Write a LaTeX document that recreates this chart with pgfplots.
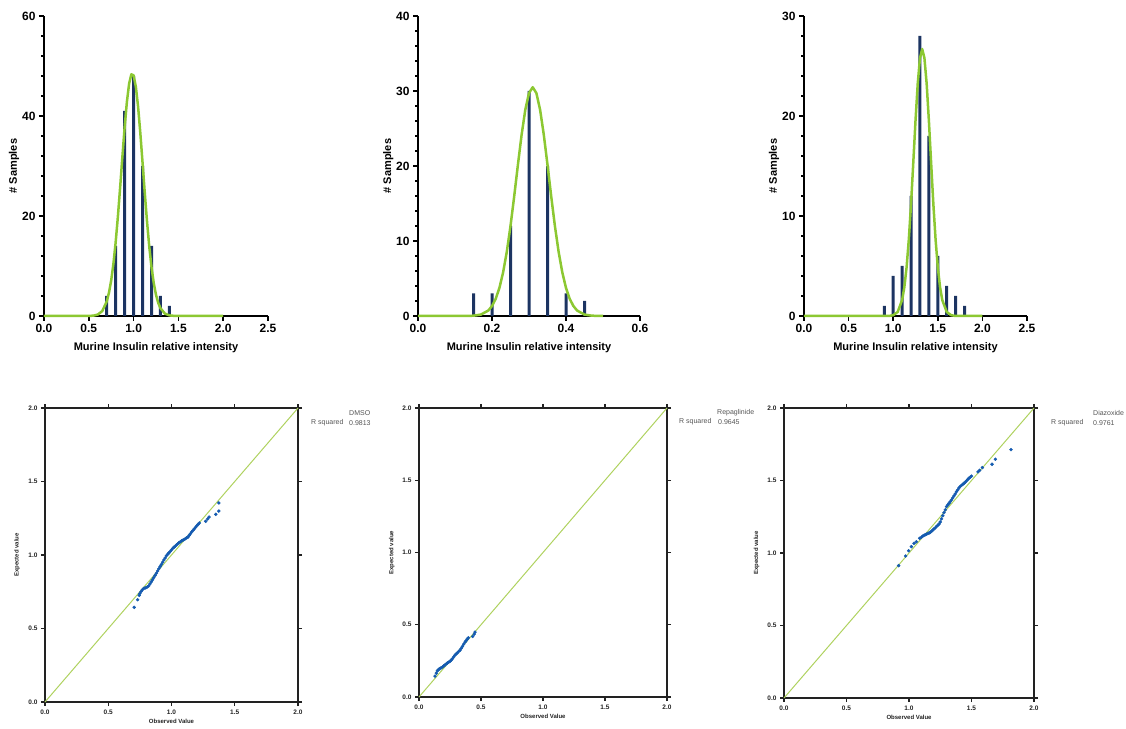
\documentclass[border=0pt]{standalone}
\usepackage{fontspec}
\setmainfont{Liberation Sans}
\usepackage{pgfplots}
\pgfplotsset{compat=1.18}

\definecolor{barnavy}{RGB}{28,52,98}
\definecolor{fitgreen}{RGB}{140,200,50}
\definecolor{qqline}{RGB}{175,210,95}
\definecolor{qqblue}{RGB}{25,85,185}
\definecolor{qqframe}{RGB}{34,34,34}
\definecolor{annot}{RGB}{85,85,85}

\pgfplotsset{
  hist/.style={
    scale only axis, anchor=south west, clip=false,
    axis lines=left,
    axis line style={-, line width=2.5pt, black},
    tick align=outside,
    major tick length=5pt, minor tick length=3pt,
    tick style={line width=1.5pt, black},
    minor y tick num=4,
    xtick pos=bottom, ytick pos=left,
    /pgf/number format/assume math mode=true,
    ticklabel style={font=\bfseries\fontsize{12}{12}\selectfont},
    xticklabel style={/pgf/number format/.cd, fixed, fixed zerofill, precision=1},
    label style={font=\bfseries\fontsize{11}{11}\selectfont},
    xlabel={Murine Insulin relative intensity},
    ylabel={\# Samples},
    xlabel style={at={(axis description cs:0.5,0)}, anchor=center, yshift=-32pt},
    ylabel style={at={(axis description cs:-0.134,0.5)}, anchor=center},
  },
  qq/.style={
    scale only axis, anchor=south west, clip=false,
    xmin=0, xmax=2, ymin=0, ymax=2,
    xtick={0,0.5,1,1.5,2}, ytick={0,0.5,1,1.5,2},
    axis line style={line width=1.5pt, qqframe},
    tick align=outside, major tick length=4pt,
    tick style={line width=1.2pt, qqframe},
    /pgf/number format/assume math mode=true,
    ticklabel style={font=\bfseries\fontsize{6.5}{7}\selectfont, text=qqframe},
    xticklabel style={/pgf/number format/.cd, fixed, fixed zerofill, precision=1},
    yticklabel style={/pgf/number format/.cd, fixed, fixed zerofill, precision=1},
    label style={font=\bfseries\fontsize{6}{7}\selectfont, text=qqframe},
    xlabel={Observed Value},
    ylabel={Expected value},
    xlabel style={at={(axis description cs:0.5,0)}, anchor=center, yshift=-19pt},
    ylabel style={at={(axis description cs:-0.11,0.5)}, anchor=center},
  },
  fit/.style={fitgreen, line width=2.5pt, line join=round},
  bars/.style={ybar, bar width=3pt, bar shift=0pt, fill=barnavy, draw=none},
  qqpts/.style={only marks, mark=*, mark size=1.5pt, mark options={fill=qqblue, draw=qqblue!75!teal}},
}

\begin{document}
\begin{tikzpicture}
\useasboundingbox (0,0) rectangle (1126pt,728pt);

% ---------- top row: histograms ----------
\begin{axis}[hist, at={(44pt,412pt)}, width=224pt, height=300pt,
  xmin=0, xmax=2.5, ymin=0, ymax=60,
  xtick={0,0.5,1,1.5,2,2.5}, ytick={0,20,40,60}]
\addplot [bars] coordinates {(0.7,4) (0.8,14) (0.9,41) (1.0,48) (1.1,30) (1.2,14) (1.3,4) (1.4,2)};
\addplot [fit] coordinates {
(0,0) (0.45,0) (0.5,0.01) (0.55,0.07) (0.6,0.28) (0.65,0.98) (0.7,2.90) (0.725,4.64)
(0.75,7.13) (0.775,10.49) (0.8,14.78) (0.825,19.94) (0.85,25.76) (0.875,31.87)
(0.9,37.73) (0.925,42.80) (0.95,46.48) (0.975,48.33) (1.0,48.12) (1.025,45.88)
(1.05,41.88) (1.075,36.61) (1.1,30.64) (1.125,24.56) (1.15,18.85) (1.175,13.85)
(1.2,9.74) (1.225,6.56) (1.25,4.23) (1.275,2.61) (1.3,1.55) (1.35,0.48)
(1.4,0.12) (1.45,0.03) (1.5,0) (2.0,0)};
\end{axis}

\begin{axis}[hist, at={(418pt,412pt)}, width=222pt, height=300pt,
  xmin=0, xmax=0.6, ymin=0, ymax=40,
  xtick={0,0.2,0.4,0.6}, ytick={0,10,20,30,40}]
\addplot [bars] coordinates {(0.15,3) (0.2,3) (0.25,12) (0.3,30) (0.35,20) (0.4,3) (0.45,2)};
\addplot [fit] coordinates {
(0,0) (0.13,0) (0.15,0.04) (0.17,0.19) (0.19,0.73) (0.2,1.33) (0.21,2.29) (0.22,3.74)
(0.23,5.81) (0.24,8.57) (0.25,12.0) (0.26,15.96) (0.27,20.15) (0.28,24.16)
(0.29,27.50) (0.30,29.72) (0.31,30.5) (0.32,29.72) (0.33,27.50) (0.34,24.16)
(0.35,20.15) (0.36,15.96) (0.37,12.0) (0.38,8.57) (0.39,5.81) (0.40,3.74)
(0.41,2.29) (0.42,1.33) (0.43,0.73) (0.45,0.19) (0.47,0.04) (0.5,0)};
\end{axis}

\begin{axis}[hist, at={(804pt,412pt)}, width=223pt, height=300pt,
  xmin=0, xmax=2.5, ymin=0, ymax=30,
  xtick={0,0.5,1,1.5,2,2.5}, ytick={0,10,20,30}]
\addplot [bars] coordinates {(0.9,1) (1.0,4) (1.1,5) (1.2,12) (1.3,28) (1.4,18) (1.5,6) (1.6,3) (1.7,2) (1.8,1)};
\addplot [fit] coordinates {
(0,0) (0.95,0) (1.0,0.08) (1.05,0.40) (1.1,1.60) (1.125,2.89) (1.15,4.87)
(1.175,7.65) (1.2,11.21) (1.225,15.32) (1.25,19.53) (1.275,23.24) (1.3,25.79)
(1.325,26.7) (1.35,25.79) (1.375,23.24) (1.4,19.53) (1.425,15.32) (1.45,11.21)
(1.475,7.65) (1.5,4.87) (1.525,2.89) (1.55,1.60) (1.6,0.40) (1.65,0.08)
(1.7,0) (2.0,0)};
\end{axis}

% ---------- bottom row: normal QQ plots ----------
\begin{axis}[qq, at={(45pt,26pt)}, width=253pt, height=294pt]
\addplot [qqline, line width=1pt] coordinates {(0,0) (2,2)};
\addplot [qqpts] table {
0.705 0.644
0.732 0.696
0.745 0.726
0.750 0.738
0.760 0.752
0.770 0.764
0.780 0.772
0.790 0.775
0.800 0.779
0.810 0.783
0.820 0.790
0.830 0.804
0.840 0.818
0.850 0.832
0.860 0.846
0.870 0.861
0.880 0.876
0.890 0.891
0.900 0.906
0.910 0.921
0.920 0.936
0.930 0.951
0.940 0.966
0.950 0.980
0.960 0.995
0.970 1.005
0.980 1.015
0.990 1.025
1.000 1.035
1.010 1.045
1.020 1.053
1.030 1.061
1.040 1.069
1.050 1.076
1.060 1.084
1.070 1.090
1.080 1.096
1.090 1.101
1.100 1.106
1.110 1.111
1.120 1.117
1.130 1.122
1.140 1.134
1.150 1.145
1.160 1.157
1.170 1.168
1.180 1.178
1.190 1.188
1.200 1.198
1.210 1.208
1.220 1.218
1.270 1.229
1.285 1.245
1.297 1.258
1.350 1.277
1.374 1.299
1.374 1.354
};
\end{axis}

\begin{axis}[qq, at={(419pt,31pt)}, width=248pt, height=289pt]
\addplot [qqline, line width=1pt] coordinates {(0,0) (2,2)};
\addplot [qqpts] table {
0.129 0.144
0.140 0.165
0.148 0.181
0.155 0.188
0.160 0.192
0.169 0.197
0.180 0.203
0.191 0.208
0.200 0.215
0.210 0.222
0.223 0.231
0.230 0.236
0.240 0.241
0.250 0.247
0.260 0.256
0.270 0.266
0.280 0.277
0.290 0.289
0.300 0.298
0.310 0.306
0.320 0.315
0.330 0.323
0.340 0.336
0.350 0.350
0.360 0.365
0.371 0.380
0.380 0.390
0.390 0.402
0.398 0.410
0.433 0.419
0.445 0.435
0.452 0.449
};
\end{axis}

\begin{axis}[qq, at={(784pt,30pt)}, width=250pt, height=290pt]
\addplot [qqline, line width=1pt] coordinates {(0,0) (2,2)};
\addplot [qqpts] table {
0.917 0.913
0.973 0.979
0.997 1.016
1.019 1.044
1.040 1.067
1.059 1.078
1.085 1.101
1.100 1.110
1.110 1.116
1.120 1.122
1.130 1.126
1.140 1.130
1.150 1.134
1.160 1.138
1.170 1.143
1.180 1.150
1.190 1.158
1.200 1.166
1.210 1.174
1.220 1.183
1.230 1.191
1.240 1.200
1.250 1.214
1.260 1.235
1.270 1.257
1.280 1.278
1.290 1.298
1.300 1.320
1.310 1.331
1.320 1.343
1.330 1.354
1.340 1.366
1.350 1.380
1.360 1.394
1.370 1.408
1.380 1.423
1.390 1.436
1.400 1.449
1.410 1.460
1.420 1.467
1.430 1.474
1.440 1.481
1.450 1.489
1.460 1.498
1.470 1.507
1.480 1.516
1.490 1.524
1.500 1.530
1.552 1.560
1.565 1.570
1.587 1.589
1.664 1.612
1.691 1.647
1.816 1.713
};
\end{axis}

% ---------- annotations beside the QQ plots ----------
\begin{scope}[every node/.style={font=\fontsize{7}{8}\selectfont, text=annot, anchor=west, inner sep=0pt}]
\node at (349pt,315pt) {DMSO};
\node at (311pt,305pt) {R squared};
\node at (349pt,305pt) {0.9813};
\node at (717pt,315pt) {Repaglinide};
\node at (679pt,306pt) {R squared};
\node at (718pt,306pt) {0.9645};
\node at (1093pt,315pt) {Diazoxide};
\node at (1051pt,305pt) {R squared};
\node at (1093pt,305pt) {0.9761};
\end{scope}
\end{tikzpicture}
\end{document}
